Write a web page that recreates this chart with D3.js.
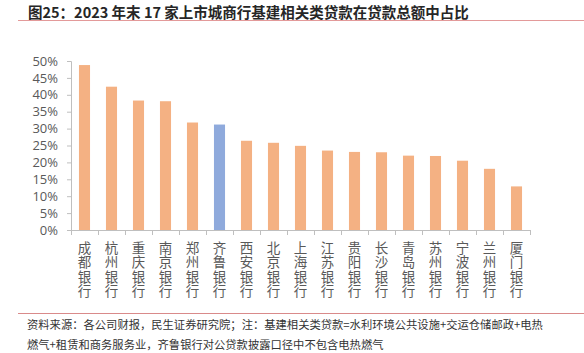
<!DOCTYPE html>
<html>
<head>
<meta charset="utf-8">
<script src="https://cdn.jsdelivr.net/npm/d3@7"></script>
<style>
	body { margin: 0; background: #fff; }
	svg { display: block; font-family: "Noto Sans CJK SC", "Noto Sans", sans-serif; }
</style>
</head>
<body>
<div id="chart"></div>
<script>
// banks, in order shown
let banks = ["成都银行", "杭州银行", "重庆银行", "南京银行", "郑州银行", "齐鲁银行", "西安银行", "北京银行", "上海银行",
	"江苏银行", "贵阳银行", "长沙银行", "青岛银行", "苏州银行", "宁波银行", "兰州银行", "厦门银行"];
// share of infra-related loans in total loans (%)
let shares = [48.8, 42.4, 38.3, 38.1, 31.8, 31.2, 26.4, 25.8, 24.9, 23.5, 23.1, 23.0, 22.0, 21.9, 20.5, 18.1, 12.9];
let highlight = "齐鲁银行";
let yTicks = [0, 5, 10, 15, 20, 25, 30, 35, 40, 45, 50];

let title = "图25：2023 年末 17 家上市城商行基建相关类贷款在贷款总额中占比";
let notes = [
	"资料来源：各公司财报，民生证券研究院；注：基建相关类贷款=水利环境公共设施+交运仓储邮政+电热",
	"燃气+租赁和商务服务业，齐鲁银行对公贷款披露口径中不包含电热燃气"
];

let W = 584, H = 353;
let margin = { left: 71, right: 54, top: 61, bottom: 123 };

let svg = d3.select("#chart").append("svg")
	.attr("width", W)
	.attr("height", H);

// title + rules
svg.append("text")
	.attr("x", 28).attr("y", 17.5)
	.attr("font-size", 14.5).attr("font-weight", "bold").attr("fill", "#262626")
	.text(title);
svg.append("line")
	.attr("x1", 18).attr("x2", W).attr("y1", 20.5).attr("y2", 20.5)
	.attr("stroke", "#E39A9A").attr("stroke-width", 1);
svg.append("line")
	.attr("x1", 18).attr("x2", W).attr("y1", 313.5).attr("y2", 313.5)
	.attr("stroke", "#D98A8A").attr("stroke-width", 1);

svg.selectAll("text.note")
	.data(notes)
	.enter().append("text")
	.attr("class", "note")
	.attr("x", 27)
	.attr("y", (d, i) => 329 + i * 20)
	.attr("font-size", 11.3).attr("fill", "#333")
	.text((d) => d);

let x = d3.scaleBand()
	.domain(banks)
	.range([margin.left, W - margin.right])
	.paddingInner(0.59)
	.paddingOuter(0.295);

let y = d3.scaleLinear()
	.domain([0, 50])
	.range([H - margin.bottom, margin.top]);

// y axis
let yAxis = svg.append("g")
	.attr("transform", "translate(" + margin.left + ",0)")
	.call(d3.axisLeft(y).tickValues(yTicks).tickFormat((d) => d + "%").tickSize(4).tickPadding(9));
yAxis.select(".domain").attr("stroke", "#BFBFBF");
yAxis.selectAll(".tick line").attr("stroke", "#BFBFBF");
yAxis.selectAll(".tick text")
	.attr("font-size", 13).attr("fill", "#595959")
	.attr("font-family", "'Open Sans', 'Noto Sans', sans-serif");

// bars
svg.selectAll(".bar")
	.data(banks)
	.enter().append("rect")
	.attr("class", "bar")
	.attr("x", (d) => x(d))
	.attr("width", x.bandwidth())
	.attr("y", (d, i) => y(shares[i]))
	.attr("height", (d, i) => y(0) - y(shares[i]))
	.attr("fill", (d) => (d == highlight ? "#8FAADC" : "#F4B183"));

// x axis: line + ticks at category boundaries
let step = x.step();
let x0 = margin.left, x1 = W - margin.right;
let gx = svg.append("g");
gx.append("line")
	.attr("x1", x0).attr("x2", x1)
	.attr("y1", y(0) + 0.5).attr("y2", y(0) + 0.5)
	.attr("stroke", "#BFBFBF");
gx.selectAll("line.tk")
	.data(d3.range(banks.length + 1))
	.enter().append("line")
	.attr("class", "tk")
	.attr("x1", (i) => Math.round(x0 + i * step) + 0.5)
	.attr("x2", (i) => Math.round(x0 + i * step) + 0.5)
	.attr("y1", y(0)).attr("y2", y(0) + 5)
	.attr("stroke", "#BFBFBF");

// vertical labels: one character per line
let lbl = gx.selectAll("text.lbl")
	.data(banks)
	.enter().append("text")
	.attr("class", "lbl")
	.attr("font-size", 13.5).attr("fill", "#595959")
	.attr("text-anchor", "middle");
lbl.selectAll("tspan")
	.data((d) => d.split("").map((c) => ({ c: c, b: d })))
	.enter().append("tspan")
	.attr("x", (o) => x(o.b) + x.bandwidth() / 2)
	.attr("y", (o, i) => 253 + i * 14.4)
	.text((o) => o.c);
</script>
</body>
</html>
